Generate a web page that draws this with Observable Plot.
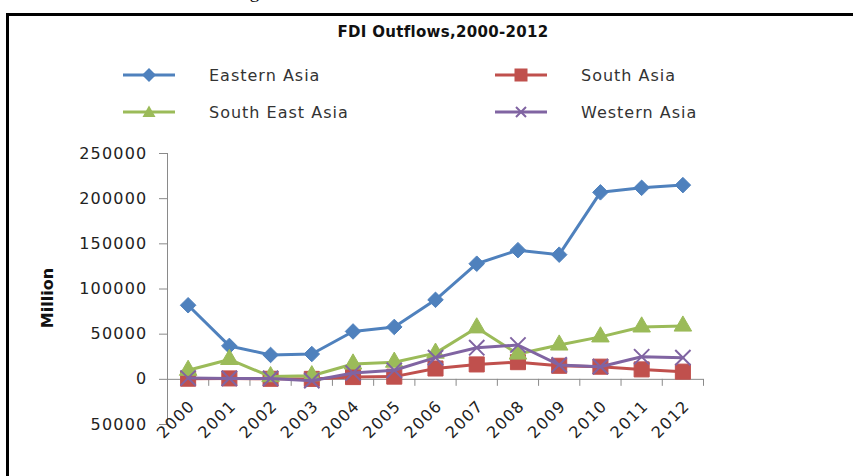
<!DOCTYPE html>
<html>
<head>
<meta charset="utf-8">
<script src="https://cdn.jsdelivr.net/npm/d3@7"></script>
<script src="https://cdn.jsdelivr.net/npm/@observablehq/plot@0.6"></script>
<style>
  html, body { margin: 0; padding: 0; background: #fff; }
  #wrap { position: relative; width: 853px; height: 476px; overflow: hidden; background: #fff; font-family: "DejaVu Sans", sans-serif; }
  #caption { position: absolute; left: 0; width: 853px; top: -19px; text-align: center; font-family: "Liberation Serif", serif; font-size: 19px; color: #000; }
  #box { position: absolute; left: 6px; top: 13px; width: 900px; height: 500px; border: 3px solid #000; box-sizing: border-box; }
  #title { position: absolute; left: 0; width: 886px; top: 23px; text-align: center; font-weight: bold; font-size: 15px; color: #111; letter-spacing: 0.3px; }
  .leg { position: absolute; height: 20px; display: flex; align-items: center; font-size: 16px; color: #333; letter-spacing: 1px; }
  .leg svg { margin-right: 34px; }
  #ylab { position: absolute; left: 47px; top: 298px; transform: translate(-50%, -50%) rotate(-90deg); font-weight: bold; font-size: 16px; color: #111; white-space: nowrap; }
  #chart { position: absolute; left: 0; top: 130px; }
</style>
</head>
<body>
<div id="wrap">
  <div id="caption">Figure 4: Trends in FDI Outflows from South Asia</div>
  <div id="box"></div>
  <div id="title">FDI Outflows,2000-2012</div>
  <div id="legend"></div>
  <div id="ylab">Million</div>
  <div id="chart"></div>
</div>
<script>
// ---- data (US$ million) ----
const years = [2000, 2001, 2002, 2003, 2004, 2005, 2006, 2007, 2008, 2009, 2010, 2011, 2012];
const easternAsia   = [82000, 37000, 27000, 28000, 53000, 58000, 88000, 128000, 143000, 138000, 207000, 212000, 215000];
const southAsia     = [700, 1000, 600, 500, 2500, 3000, 12000, 16500, 19000, 15000, 14000, 11000, 8500];
const southEastAsia = [10000, 22000, 3000, 4000, 17000, 19000, 29000, 57000, 28000, 38000, 47000, 58000, 59000];
const westernAsia   = [1500, 1000, 1000, -1500, 7000, 10000, 24000, 35000, 38000, 16000, 14000, 25000, 24000];
const seriesNames   = ["Eastern Asia", "South Asia", "South East Asia", "Western Asia"];
const seriesColors  = ["#4F81BD", "#C0504D", "#9BBB59", "#8064A2"];
const seriesSymbols = ["diamond2", "square", "triangle", "times"];
const yTicks = [-50000, 0, 50000, 100000, 150000, 200000, 250000];

const seriesValues = [easternAsia, southAsia, southEastAsia, westernAsia];
const rows = seriesNames.map((name, s) => years.map((year, i) => ({series: name, year, value: seriesValues[s][i]})));
const xBounds = [years[0] - 0.5, ...years.map(y => y + 0.5)];

// ---- legend ----
const legendPos = [
  {left: 123, top: 65}, {left: 495, top: 65},
  {left: 123, top: 102}, {left: 495, top: 102}
];
const legend = document.getElementById("legend");
function iconSVG(s) {
  const c = seriesColors[s];
  const sym = seriesSymbols[s];
  let m = "";
  if (sym === "diamond2") m = `<path d="M26,3 L33,10 L26,17 L19,10 Z" fill="${c}"/>`;
  if (sym === "square") m = `<rect x="19.5" y="3.5" width="13" height="13" fill="${c}"/>`;
  if (sym === "triangle") m = `<path d="M26,3.5 L32.5,15 L19.5,15 Z" fill="${c}"/>`;
  if (sym === "times") m = `<path d="M21,5 L31,15 M31,5 L21,15" stroke="${c}" stroke-width="2"/>`;
  return `<svg width="52" height="20"><line x1="0" x2="52" y1="10" y2="10" stroke="${c}" stroke-width="3"/>${m}</svg>`;
}
seriesNames.forEach((name, s) => {
  const d = document.createElement("div");
  d.className = "leg";
  d.style.left = legendPos[s].left + "px";
  d.style.top = legendPos[s].top + "px";
  d.innerHTML = iconSVG(s) + `<span>${name}</span>`;
  legend.appendChild(d);
});

// ---- chart ----
const W = 853, H = 346, mT = 23, mB = 52, mL = 167, mR = 150;
const marks = [
  Plot.frame({anchor: "left", stroke: "#8a8a8a"}),
  Plot.axisY(yTicks, {
    tickSize: 8, tickPadding: 12, stroke: "#8a8a8a", fill: "#222",
    fontSize: 16, tickFormat: d => String(Math.abs(d)), label: null
  }),
  Plot.ruleY([0], {stroke: "#8a8a8a"}),
  Plot.ruleX(xBounds, {x: d => d, y1: () => 0, y2: () => 0, insetBottom: -7, stroke: "#8a8a8a"}),
  Plot.text(years, {
    x: d => d, y: () => 0, text: d => String(d), rotate: -45, textAnchor: "end",
    dx: 4, dy: 24, fontSize: 16, fill: "#222"
  })
];
const radii = [7, 8.5, 6.5, 7];
rows.forEach((data, s) => {
  marks.push(Plot.line(data, {x: "year", y: "value", stroke: seriesColors[s], strokeWidth: 3}));
  if (seriesSymbols[s] === "times") {
    marks.push(Plot.dot(data, {x: "year", y: "value", symbol: "times", r: radii[s], stroke: seriesColors[s], strokeWidth: 2}));
  } else {
    marks.push(Plot.dot(data, {x: "year", y: "value", symbol: seriesSymbols[s], r: radii[s], fill: seriesColors[s], stroke: seriesColors[s], strokeWidth: 1}));
  }
});

const chart = Plot.plot({
  width: W, height: H,
  marginTop: mT, marginBottom: mB, marginLeft: mL, marginRight: mR,
  x: {type: "linear", domain: [xBounds[0], xBounds[xBounds.length - 1]], axis: null},
  y: {domain: [yTicks[0], yTicks[yTicks.length - 1]], axis: null},
  style: {fontFamily: "DejaVu Sans, sans-serif", fontSize: "16px", background: "transparent", letterSpacing: "1.2px"},
  marks
});
document.getElementById("chart").appendChild(chart);
</script>
</body>
</html>
